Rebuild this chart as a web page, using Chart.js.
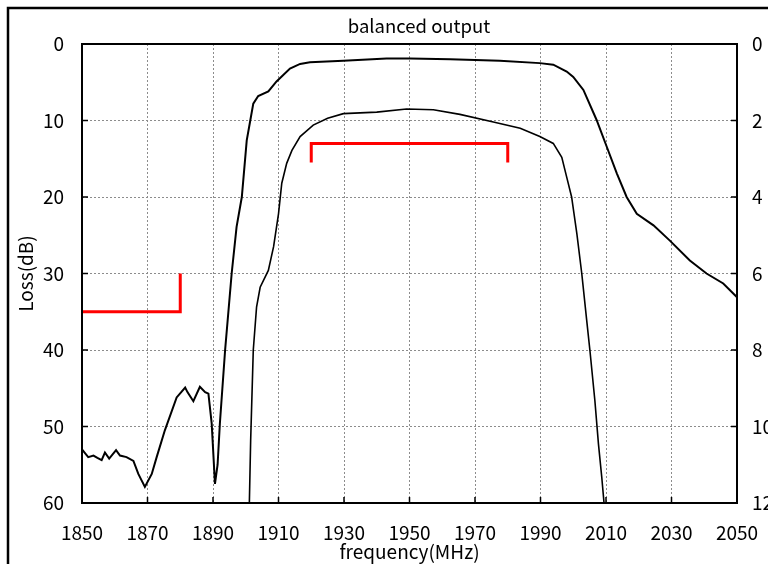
<!DOCTYPE html>
<html>
<head>
<meta charset="utf-8">
<script src="https://cdn.jsdelivr.net/npm/chart.js@4/dist/chart.umd.min.js"></script>
<style>
  html, body { margin: 0; padding: 0; background: #fff; }
  #wrap { width: 768px; height: 564px; }
</style>
</head>
<body>
<div id="wrap"><canvas id="chart" width="768" height="564"></canvas></div>
<script>
// ---- data ----
const titleText = 'balanced output';
const xTicks = [1850, 1870, 1890, 1910, 1930, 1950, 1970, 1990, 2010, 2030, 2050];
const yLeftTicks = [0, 10, 20, 30, 40, 50, 60];
const yRightTicks = [0, 2, 4, 6, 8, 10, 12];

// wideband response, left axis (dB)
const wideFreq = [1850, 1851.9, 1853.5, 1854.7, 1856, 1857, 1858.3, 1860.4, 1861.6, 1863.6, 1865.7, 1867.2, 1869.2,
  1871.3, 1872.8, 1875.3, 1878.9, 1881.5, 1882.2, 1884, 1886, 1887.6, 1888.6, 1889.6, 1890.6, 1891.4, 1892.1,
  1893.7, 1895.7, 1897.2, 1898.8, 1900.3, 1901.3, 1902.3, 1903.8, 1906.9, 1909.4, 1913.5, 1916.6, 1919.6,
  1929.8, 1943, 1950.2, 1962.4, 1977.6, 1989.8, 1993.9, 1998, 2000, 2003.1, 2007.1, 2010.2, 2013.3, 2016.3,
  2019.4, 2024.5, 2029.5, 2035.6, 2040.7, 2045.8, 2050];
const wideLoss = [53.0, 54.0, 53.8, 54.1, 54.4, 53.4, 54.2, 53.1, 53.8, 54.0, 54.5, 56.2, 57.9,
  56.2, 54.0, 50.5, 46.2, 44.9, 45.5, 46.7, 44.8, 45.5, 45.7, 49.6, 57.5, 55.0, 49.6,
  40.0, 30.0, 23.9, 20.0, 12.6, 10.2, 7.8, 6.8, 6.2, 4.9, 3.2, 2.6, 2.4,
  2.2, 1.9, 1.9, 2.0, 2.2, 2.5, 2.7, 3.6, 4.3, 6.0, 9.9, 13.4, 16.9, 20.0,
  22.2, 23.7, 25.7, 28.3, 30.0, 31.3, 33.1];

// passband detail, right axis (dB)
const passFreq = [1901.1, 1901.5, 1902.3, 1903.3, 1904.4, 1906.9, 1908.5, 1910, 1911, 1912.5, 1914.1, 1916.6,
  1920.6, 1925, 1929.8, 1940, 1949.1, 1957.3, 1965.4, 1975.6, 1983.8, 1989.8, 1993.9, 1996.5, 1998, 1999.5,
  2001.1, 2002.6, 2004.1, 2005.1, 2006.6, 2007.7, 2008.7, 2009.4];
const passLoss = [12.0, 10.36, 8.0, 6.88, 6.36, 5.92, 5.3, 4.44, 3.64, 3.12, 2.78, 2.42,
  2.12, 1.94, 1.82, 1.78, 1.70, 1.72, 1.84, 2.04, 2.20, 2.42, 2.60, 2.96, 3.48, 4.0,
  4.96, 6.0, 7.22, 8.02, 9.32, 10.46, 11.32, 12.0];

// spec masks (left axis)
const stopMaskFreq = [1850, 1880, 1880];
const stopMaskLoss = [35, 35, 30];
const passMaskFreq = [1920, 1920, 1980, 1980];
const passMaskLoss = [15.5, 13, 13, 15.5];

const pts = (xs, ys) => xs.map((x, i) => ({ x, y: ys[i] }));

const FONT = '"Noto Sans CJK JP", "DejaVu Sans", sans-serif';
const PLOT = { left: 82, right: 737, top: 44, bottom: 503 };

// frame, plot box, inward ticks, title
const decor = {
  id: 'decor',
  afterDraw(chart) {
    const { ctx, chartArea: a, scales } = chart;
    ctx.save();
    ctx.strokeStyle = '#000';
    ctx.lineWidth = 2.5;
    ctx.beginPath();
    ctx.moveTo(8, 564); ctx.lineTo(8, 8); ctx.lineTo(768, 8);
    ctx.stroke();

    ctx.lineWidth = 2;
    ctx.strokeRect(a.left, a.top, a.right - a.left, a.bottom - a.top);

    ctx.lineWidth = 1.5;
    ctx.beginPath();
    for (const v of xTicks) {
      const px = scales.x.getPixelForValue(v);
      ctx.moveTo(px, a.bottom); ctx.lineTo(px, a.bottom - 6);
    }
    for (const v of yLeftTicks) {
      const py = scales.y.getPixelForValue(v);
      ctx.moveTo(a.left, py); ctx.lineTo(a.left + 6, py);
    }
    for (const v of yRightTicks) {
      const py = scales.y2.getPixelForValue(v);
      ctx.moveTo(a.right, py); ctx.lineTo(a.right - 6, py);
    }
    ctx.stroke();

    ctx.fillStyle = '#000';
    ctx.font = '18.5px ' + FONT;
    ctx.textAlign = 'center';
    ctx.textBaseline = 'middle';
    ctx.fillText(titleText, 419, 26);
    ctx.restore();
  }
};

const gridOpts = { color: '#8c8c8c', lineWidth: 1, drawTicks: false };
const dashBorder = { display: false, dash: [2, 2] };
const tickFont = { family: FONT, size: 19 };
const titleFont = { family: FONT, size: 19 };

new Chart(document.getElementById('chart'), {
  type: 'line',
  data: {
    datasets: [
      { data: pts(wideFreq, wideLoss), yAxisID: 'y', borderColor: '#000', borderWidth: 2 },
      { data: pts(passFreq, passLoss), yAxisID: 'y2', borderColor: '#000', borderWidth: 1.6 },
      { data: pts(stopMaskFreq, stopMaskLoss), yAxisID: 'y', borderColor: '#ff0000', borderWidth: 3 },
      { data: pts(passMaskFreq, passMaskLoss), yAxisID: 'y', borderColor: '#ff0000', borderWidth: 3 }
    ]
  },
  options: {
    responsive: false,
    animation: false,
    parsing: false,
    layout: { padding: { top: PLOT.top, left: 0, right: 0, bottom: 0 } },
    elements: { point: { radius: 0 }, line: { tension: 0, borderJoinStyle: 'miter' } },
    plugins: { legend: { display: false }, tooltip: { enabled: false }, title: { display: false } },
    scales: {
      x: {
        type: 'linear', min: 1850, max: 2050,
        afterBuildTicks: (s) => { s.ticks = xTicks.map(v => ({ value: v })); },
        afterFit: (s) => { s.height = 564 - PLOT.bottom; s.paddingLeft = 0; s.paddingRight = 0; },
        grid: gridOpts,
        border: dashBorder,
        ticks: { color: '#000', font: tickFont, padding: 18, maxRotation: 0, autoSkip: false, callback: (v) => String(v) },
        title: { display: true, text: 'frequency(MHz)', color: '#000', font: titleFont, padding: { top: 0, bottom: 1 } }
      },
      y: {
        type: 'linear', reverse: true, min: 0, max: 60, position: 'left',
        afterBuildTicks: (s) => { s.ticks = yLeftTicks.map(v => ({ value: v })); },
        afterFit: (s) => { s.width = PLOT.left; },
        grid: gridOpts,
        border: dashBorder,
        ticks: { color: '#000', font: tickFont, padding: 18, callback: (v) => String(v) },
        title: { display: true, text: 'Loss(dB)', color: '#000', font: titleFont, padding: { top: 14, bottom: 0 } }
      },
      y2: {
        type: 'linear', reverse: true, min: 0, max: 12, position: 'right',
        afterBuildTicks: (s) => { s.ticks = yRightTicks.map(v => ({ value: v })); },
        afterFit: (s) => { s.width = 768 - PLOT.right; },
        grid: { drawOnChartArea: false, drawTicks: false },
        border: { display: false },
        ticks: { color: '#000', font: tickFont, padding: 15, callback: (v) => String(v) }
      }
    }
  },
  plugins: [decor]
});
</script>
</body>
</html>
